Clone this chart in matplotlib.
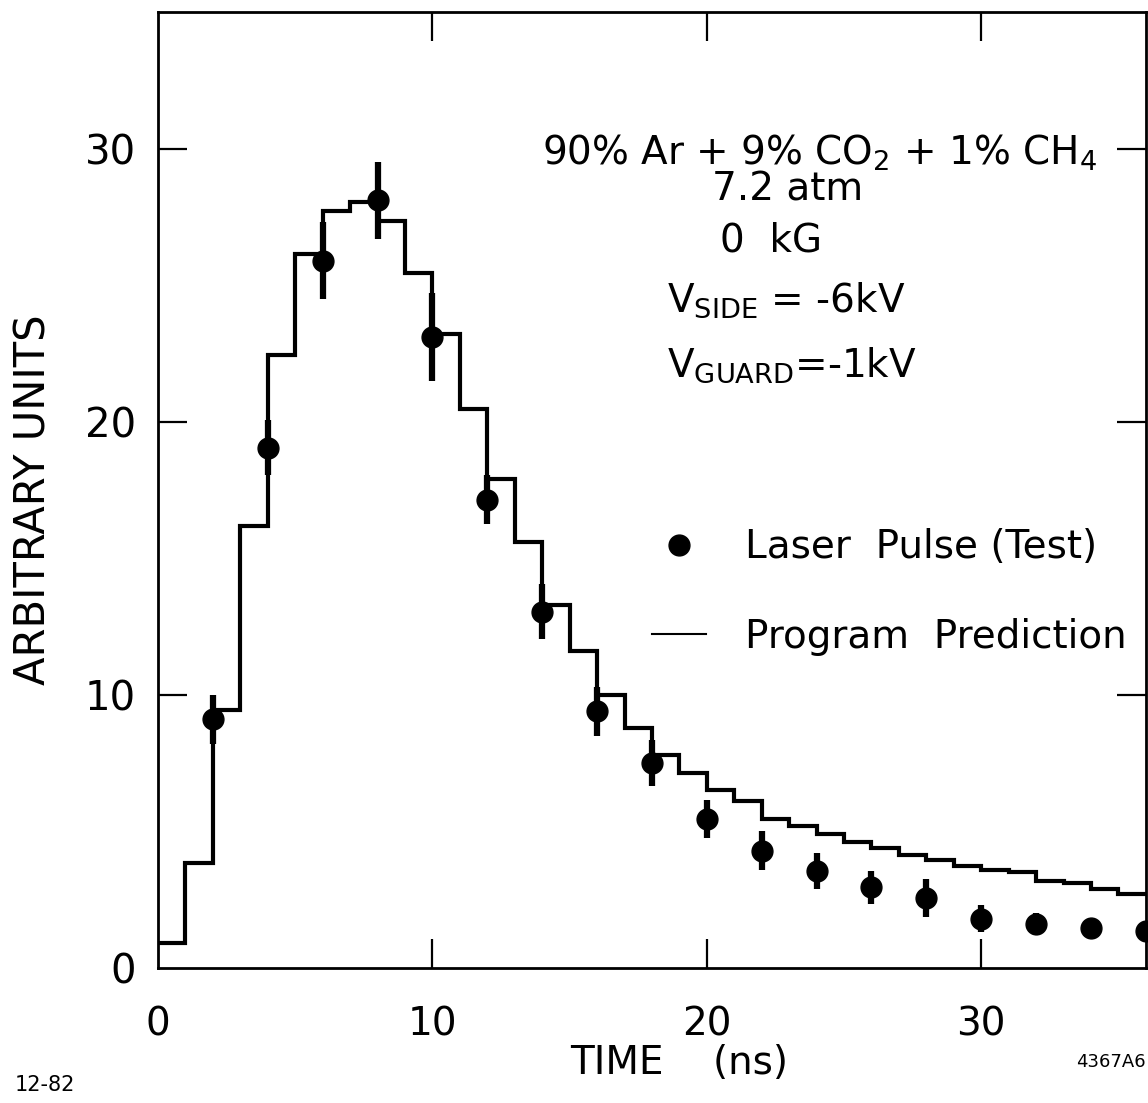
"""Drift-time pulse shape: laser test points vs program prediction."""

import numpy as np
import matplotlib

matplotlib.use("Agg")
import matplotlib.pyplot as plt
from matplotlib.lines import Line2D

# program prediction, 1 ns bins starting at t = 0
pred_values = [
    0.9, 3.85, 9.45, 16.2, 22.45, 26.15, 27.7, 28.05, 27.35, 25.45,
    23.2, 20.45, 17.9, 15.6, 13.3, 11.6, 10.0, 8.8, 7.8, 7.15,
    6.5, 6.1, 5.45, 5.2, 4.9, 4.6, 4.4, 4.15, 3.95, 3.75,
    3.6, 3.5, 3.2, 3.1, 2.9, 2.7,
]
bin_width = 1.0

# laser pulse test measurements
test_time = [2, 4, 6, 8, 10, 12, 14, 16, 18, 20, 22, 24, 26, 28, 30, 32, 34, 36]
test_value = [9.1, 19.05, 25.9, 28.1, 23.1, 17.15, 13.05, 9.4, 7.5, 5.45,
              4.3, 3.55, 2.95, 2.55, 1.8, 1.6, 1.45, 1.35]
test_err = [0.9, 1.0, 1.4, 1.4, 1.6, 0.9, 1.0, 0.9, 0.85, 0.7,
            0.7, 0.65, 0.6, 0.7, 0.5, 0.4, 0.35, 0.3]

xticks = [0, 10, 20, 30]
yticks = [0, 10, 20, 30]

plt.rcParams["font.family"] = ["DejaVu Sans"]
plt.rcParams["mathtext.fontset"] = "dejavusans"

fig = plt.figure(figsize=(11.48, 11.03), dpi=100)
ax = fig.add_axes([0.1376, 0.1224, 0.8606, 0.8667])

edges = np.arange(len(pred_values) + 1) * bin_width
ax.stairs(pred_values, edges, baseline=None, color="black", linewidth=3)

ax.errorbar(test_time, test_value, yerr=test_err, fmt="o", color="black",
            markersize=15, elinewidth=4.5, capsize=0, clip_on=False, zorder=3)

ax.set_xlim(0, 36)
ax.set_ylim(0, 35)
ax.set_xticks(xticks)
ax.set_yticks(yticks)
ax.tick_params(direction="in", length=21, width=1.6, top=True, right=True,
               labelsize=28)
ax.tick_params(axis="x", pad=27)
ax.tick_params(axis="y", pad=16, labelsize=29)
# ticks at 0 are hidden by the frame, keep only the labels
for t in ax.xaxis.get_major_ticks()[:1] + ax.yaxis.get_major_ticks()[:1]:
    for line in (t.tick1line, t.tick2line):
        line.set_visible(False)
for spine in ax.spines.values():
    spine.set_linewidth(2)

ax.set_xlabel("TIME    (ns)", fontsize=28)
ax.xaxis.set_label_coords(0.528, -0.08)
ax.set_ylabel("ARBITRARY UNITS", fontsize=30)
ax.yaxis.set_label_coords(-0.105, 0.49)

# gas / field conditions
ax.text(0.67, 0.853, "90% Ar + 9% CO$_2$ + 1% CH$_4$", transform=ax.transAxes,
        ha="center", va="center", fontsize=28)
ax.text(0.637, 0.814, "7.2 atm", transform=ax.transAxes,
        ha="center", va="center", fontsize=28)
ax.text(0.621, 0.761, "0  kG", transform=ax.transAxes,
        ha="center", va="center", fontsize=28)
ax.text(0.515, 0.699, r"V$_{\mathrm{SIDE}}$ = -6kV", transform=ax.transAxes,
        ha="left", va="center", fontsize=28)
ax.text(0.515, 0.631, r"V$_{\mathrm{GUARD}}$=-1kV", transform=ax.transAxes,
        ha="left", va="center", fontsize=28)

handles = [
    Line2D([], [], marker="o", linestyle="none", color="black", markersize=15),
    Line2D([], [], color="black", linewidth=1.5),
]
ax.legend(handles, ["Laser  Pulse (Test)", "Program  Prediction"],
          loc="upper left", bbox_to_anchor=(0.5, 0.46), frameon=False,
          fontsize=28, handlelength=1.4, handletextpad=1.0, labelspacing=1.32,
          borderpad=0, borderaxespad=0)

fig.text(0.013, 0.016, "12-82", fontsize=15, ha="left", va="center")
fig.text(0.998, 0.037, "4367A6", fontsize=13, ha="right", va="center")

fig.savefig("out.png", dpi=100)
